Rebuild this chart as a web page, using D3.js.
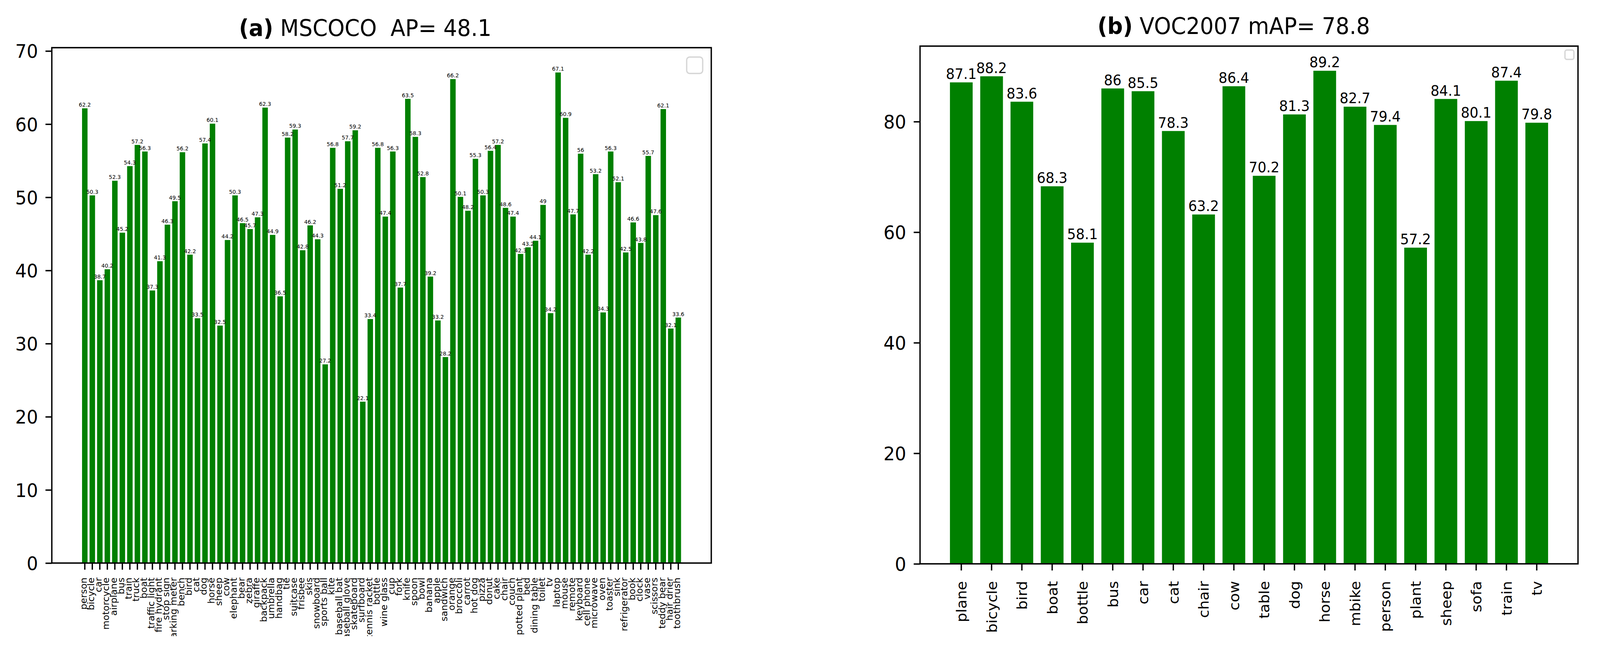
<!DOCTYPE html>
<html>
<head>
<meta charset="utf-8">
<script src="https://cdn.jsdelivr.net/npm/d3@7"></script>
<style>
  html, body { margin: 0; padding: 0; width: 100%; height: 100%; overflow: hidden; background: #fff; }
  #chart { width: 100vw; height: 100vh; }
  #chart svg { display: block; width: 100vw; height: 100vh; }
  svg text { font-family: "DejaVu Sans", "Liberation Sans", sans-serif; fill: #000; }
</style>
</head>
<body>
<div id="chart"></div>
<script>
// ---------------- DATA ----------------
const cocoCategories = ["person","bicycle","car","motorcycle","airplane","bus","train","truck","boat","traffic light",
  "fire hydrant","stop sign","parking meter","bench","bird","cat","dog","horse","sheep","cow",
  "elephant","bear","zebra","giraffe","backpack","umbrella","handbag","tie","suitcase","frisbee",
  "skis","snowboard","sports ball","kite","baseball bat","baseball glove","skateboard","surfboard","tennis racket","bottle",
  "wine glass","cup","fork","knife","spoon","bowl","banana","apple","sandwich","orange",
  "broccoli","carrot","hot dog","pizza","donut","cake","chair","couch","potted plant","bed",
  "dining table","toilet","tv","laptop","mouse","remote","keyboard","cell phone","microwave","oven",
  "toaster","sink","refrigerator","book","clock","vase","scissors","teddy bear","hair drier","toothbrush"];
const cocoAP = [62.2,50.3,38.7,40.2,52.3,45.2,54.3,57.2,56.3,37.3,
  41.3,46.3,49.5,56.2,42.2,33.5,57.4,60.1,32.5,44.2,
  50.3,46.5,45.7,47.3,62.3,44.9,36.5,58.2,59.3,42.8,
  46.2,44.3,27.2,56.8,51.2,57.7,59.2,22.1,33.4,56.8,
  47.4,56.3,37.7,63.5,58.3,52.8,39.2,33.2,28.2,66.2,
  50.1,48.2,55.3,50.3,56.4,57.2,48.6,47.4,42.3,43.2,
  44.1,49,34.2,67.1,60.9,47.7,56,42.2,53.2,34.3,
  56.3,52.1,42.5,46.6,43.8,55.7,47.6,62.1,32.1,33.6];
const cocoTicks = [0,10,20,30,40,50,60,70];

const vocCategories = ["plane","bicycle","bird","boat","bottle","bus","car","cat","chair","cow",
  "table","dog","horse","mbike","person","plant","sheep","sofa","train","tv"];
const vocAP = [87.1,88.2,83.6,68.3,58.1,86,85.5,78.3,63.2,86.4,
  70.2,81.3,89.2,82.7,79.4,57.2,84.1,80.1,87.4,79.8];
const vocTicks = [0,20,40,60,80];

const titleA = { tag: "(a)", text: " MSCOCO  AP= 48.1" };
const titleB = { tag: "(b)", text: " VOC2007 mAP= 78.8" };

// ---------------- DRAW ----------------
const W = 4292, H = 1684;
const svg = d3.select("#chart").append("svg")
  .attr("viewBox", `0 0 ${W} ${H}`)
  .attr("preserveAspectRatio", "none");
svg.append("rect").attr("width", W).attr("height", H).attr("fill", "#fff");
svg.append("defs").append("clipPath").attr("id", "figclip")
  .append("rect").attr("x", 0).attr("y", 0).attr("width", W).attr("height", 1628);
const root = svg.append("g").attr("clip-path", "url(#figclip)");

function drawPanel(p) {
  const g = root.append("g");
  const x = d3.scaleBand().domain(p.cats).range([p.l, p.r])
    .paddingInner(p.padInner).paddingOuter(p.padOuter);
  const y = d3.scaleLinear().domain([0, d3.max(p.vals) * 1.05]).range([p.b, p.t]);

  // bars
  g.selectAll("rect.bar").data(p.cats).join("rect")
    .attr("class", "bar")
    .attr("x", d => x(d))
    .attr("width", x.bandwidth())
    .attr("y", (d, i) => y(p.vals[i]))
    .attr("height", (d, i) => y(0) - y(p.vals[i]))
    .attr("fill", "#008000")
    .attr("stroke", p.barStroke)
    .attr("stroke-width", p.barStrokeW);

  // value labels
  g.selectAll("text.val").data(p.cats).join("text")
    .attr("class", "val")
    .attr("x", d => x(d) + x.bandwidth() / 2)
    .attr("y", (d, i) => y(p.vals[i]) - 0.236 * p.valFont)
    .attr("text-anchor", "middle")
    .attr("font-size", p.valFont)
    .text((d, i) => String(p.vals[i]));

  // y axis
  const ya = g.append("g").attr("transform", `translate(${p.l},0)`)
    .call(d3.axisLeft(y).tickValues(p.ticks).tickSize(17).tickPadding(20).tickFormat(d3.format("d")));
  ya.select(".domain").remove();
  ya.selectAll(".tick line").attr("stroke", "#000").attr("stroke-width", 3.6);
  ya.selectAll(".tick text").attr("font-size", p.tickFont).attr("dy", "0.36em");

  // x axis
  const xa = g.append("g").attr("transform", `translate(0,${p.b})`)
    .call(d3.axisBottom(x).tickSize(17).tickPadding(0));
  xa.select(".domain").remove();
  xa.selectAll(".tick line").attr("stroke", "#000").attr("stroke-width", 3.6);
  xa.selectAll(".tick text")
    .attr("font-size", p.xFont)
    .attr("transform", "rotate(-90)")
    .attr("text-anchor", "end")
    .attr("x", -p.xOff)
    .attr("y", 0)
    .attr("dy", p.xDy);

  // frame
  g.append("rect")
    .attr("x", p.l).attr("y", p.t)
    .attr("width", p.r - p.l).attr("height", p.b - p.t)
    .attr("fill", "none").attr("stroke", "#000").attr("stroke-width", 3.6);

  // empty legend box
  g.append("rect")
    .attr("x", p.legend.x).attr("y", p.legend.y)
    .attr("width", p.legend.w).attr("height", p.legend.h)
    .attr("rx", p.legend.rx).attr("ry", p.legend.rx)
    .attr("fill", "#fff").attr("stroke", "#d6d6d6").attr("stroke-width", 3.5);

  // title
  const t = g.append("text")
    .attr("x", p.titleX).attr("y", p.titleY)
    .attr("font-size", 58)
    .style("white-space", "pre");
  t.append("tspan").attr("font-weight", "bold").text(p.title.tag);
  t.append("tspan").text(p.title.text);
}

drawPanel({
  cats: cocoCategories, vals: cocoAP, ticks: cocoTicks,
  l: 139, r: 1908, t: 122, b: 1441,
  padInner: 0.2, padOuter: 3.99,
  barStroke: "#ffffff", barStrokeW: 1.4,
  valFont: 14.5, tickFont: 48, xFont: 24, xOff: 37, xDy: "0.2em",
  legend: { x: 1842, y: 146, w: 43, h: 42, rx: 8 },
  title: titleA, titleX: 641, titleY: 92
});

drawPanel({
  cats: vocCategories, vals: vocAP, ticks: vocTicks,
  l: 2468, r: 4233, t: 118, b: 1443,
  padInner: 0.25, padOuter: 0.9875,
  barStroke: "none", barStrokeW: 0,
  valFont: 37, tickFont: 48, xFont: 38, xOff: 44, xDy: "0.36em",
  legend: { x: 4198, y: 128, w: 24, h: 24, rx: 5 },
  title: titleB, titleX: 2944, titleY: 87
});
</script>
</body>
</html>
